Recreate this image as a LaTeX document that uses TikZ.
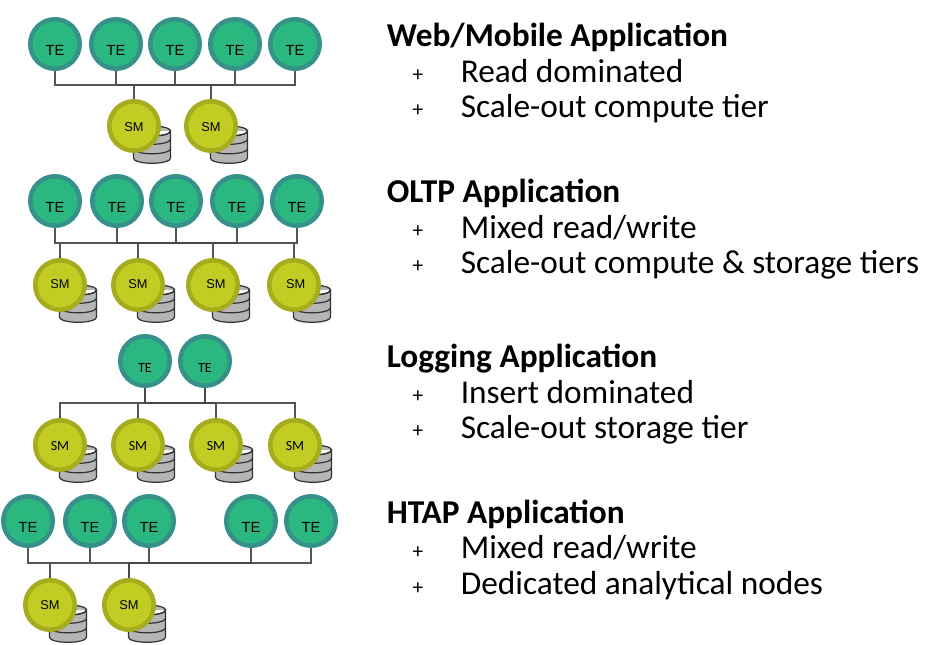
\documentclass[tikz,border=0pt]{standalone}
\usepackage{fontspec}
\setmainfont{Carlito}
\newfontfamily\arialfont{Liberation Sans}
\usetikzlibrary{positioning}
\definecolor{tefill}{HTML}{2BB880}
\definecolor{teline}{HTML}{36918A}
\definecolor{smfill}{HTML}{C2CD23}
\definecolor{smline}{HTML}{A5AC1E}
\definecolor{diskfill}{HTML}{B5B5B5}
\definecolor{wire}{HTML}{555555}

\begin{document}
\begin{tikzpicture}[
        x=0.75pt, y=-0.75pt,
        tenode/.style={
            circle, draw=teline, fill=tefill, line width=3.4pt, minimum size=37.1pt, inner sep=0pt,
            text height=17pt, text depth=0pt, font=\arialfont\fontsize{11}{13}\selectfont
        },
        smnode/.style={
            circle, draw=smline, fill=smfill, line width=3.4pt, minimum size=37.1pt, inner sep=0pt,
            text height=8pt, text depth=0pt, font=\arialfont\fontsize{9.6}{11}\selectfont
        },
        logtext/.style={font=\fontsize{10.5}{12}\selectfont},
        conn/.style={draw=wire, line width=1pt},
        mainconn/.style={draw=wire!85!black, line width=1.5pt},
        head/.style={anchor=base west, inner sep=0pt, font=\bfseries\fontsize{25}{30}\selectfont},
        item/.style={anchor=base west, inner sep=0pt, font=\fontsize{25}{30}\selectfont},
        plusmark/.style={anchor=base, inner sep=0pt, font=\fontsize{16}{18}\selectfont},
        disk/.pic={
            \draw[draw=black!80, fill=diskfill, line width=0.9pt]
                (-18.5,-13.5) -- (-18.5,13.8) arc[start angle=180, end angle=0, x radius=18.5, y radius=5]
                -- (18.5,-13.5) arc[start angle=0, end angle=360, x radius=18.5, y radius=5];
            \draw[draw=black!80, line width=0.9pt]
                (-18.5,-13.5) arc[start angle=180, end angle=0, x radius=18.5, y radius=5]
                (-18.5,-5.2) arc[start angle=180, end angle=0, x radius=18.5, y radius=5]
                (-18.5,4.3) arc[start angle=180, end angle=0, x radius=18.5, y radius=5];
        }
    ]
        \useasboundingbox (0,0) rectangle (947,645);

        % Web/Mobile row
        \foreach \n/\x in {a1/55, a2/116, a3/175, a4/235, a5/295}
            \node[tenode] (\n) at (\x,44) {TE};
        \foreach \n/\x in {p1/134, p2/211} {
            \pic at (\x+18,144.5) {disk};
            \node[smnode] (\n) at (\x,126) {SM};
        }
        \coordinate (busa) at (0,85);
        \draw[conn] (a1.south) |- (busa -| a5.south) -- (a5.south);
        \draw[mainconn] (a2.south |- busa) -- (a4.south |- busa);
        \foreach \n in {a2, a3, a4} \draw[conn] (\n.south) -- (\n.south |- busa);
        \foreach \n in {p1, p2} \draw[conn] (\n.north) -- (\n.north |- busa);

        % OLTP row
        \foreach \n/\x in {b1/55, b2/117, b3/176, b4/237, b5/297}
            \node[tenode] (\n) at (\x,201) {TE};
        \foreach \n/\x/\k in {q1/60/0, q2/138/0, q3/213/4.5, q4/294/2.5} {
            \pic at (\x+18,303.5) {disk};
            \node[smnode, text height=5.3pt] (\n) at (\x,285) {\hspace*{\k pt}SM};
        }
        \coordinate (busb) at (0,243);
        \draw[conn] (b1.south) |- (busb -| b5.south) -- (b5.south);
        \draw[mainconn] (b2.south |- busb) -- (b4.south |- busb);
        \foreach \n in {b2, b3, b4} \draw[conn] (\n.south) -- (\n.south |- busb);
        \foreach \n in {q1, q2, q3, q4} \draw[conn] (\n.north) -- (\n.north |- busb);

        % Logging row
        \foreach \n/\x in {c1/145, c2/205}
            \node[tenode, logtext, text height=16.6pt] (\n) at (\x,361) {TE};
        \foreach \n/\x in {r1/60, r2/138, r3/216, r4/295} {
            \pic at (\x+18,463.5) {disk};
            \node[smnode, logtext, text height=8.8pt] (\n) at (\x,445) {SM};
        }
        \coordinate (busc) at (0,403);
        \draw[conn] (r1.north) |- (busc -| r4.north) -- (r4.north);
        \draw[mainconn] (c1.south) |- (busc -| r3.north);
        \draw[mainconn] (c2.south) -- (c2.south |- busc);
        \foreach \n in {r2, r3} \draw[conn] (\n.north) -- (\n.north |- busc);

        % HTAP row
        \foreach \n/\x in {d1/28, d2/90, d3/149, d4/251, d5/311}
            \node[tenode] (\n) at (\x,521) {TE};
        \foreach \n/\x in {s1/50, s2/129} {
            \pic at (\x+18,623.5) {disk};
            \node[smnode, text height=7pt] (\n) at (\x,605) {SM};
        }
        \coordinate (busd) at (0,563);
        \draw[conn] (d1.south) |- (busd -| d5.south) -- (d5.south);
        \draw[mainconn] (s2.north) |- (busd -| d4.south);
        \foreach \n in {d2, d3, d4} \draw[conn] (\n.south) -- (\n.south |- busd);
        \draw[conn] (s1.north) -- (s1.north |- busd);

        % Captions
        \node[head] (weba) at (386.5,46.5) {Web/Mobile Application};
        \node[plusmark] (webp) at (418,82) {+};
        \node[item] (webb) at (460.5,82.5) {Read dominated};
        \node[plusmark] (webq) at (418,117) {+};
        \node[item] (webc) at (460.5,117.5) {Scale-out compute tier};

        \node[head] (olta) at (386.5,202.5) {OLTP Application};
        \node[plusmark] (oltp) at (418,238) {+};
        \node[item] (oltb) at (460.5,238.5) {Mixed read/write};
        \node[plusmark] (oltq) at (418,273) {+};
        \node[item] (oltc) at (460.5,273.5) {Scale-out compute \& storage tiers};

        \node[head] (loga) at (386.5,367.5) {Logging Application};
        \node[plusmark] (logp) at (418,403) {+};
        \node[item] (logb) at (460.5,403.5) {Insert dominated};
        \node[plusmark] (logq) at (418,438) {+};
        \node[item] (logc) at (460.5,438.5) {Scale-out storage tier};

        \node[head] (htaa) at (386.5,523.5) {HTAP Application};
        \node[plusmark] (htap) at (418,558) {+};
        \node[item] (htab) at (460.5,558.5) {Mixed read/write};
        \node[plusmark] (htaq) at (418,594) {+};
        \node[item] (htac) at (460.5,594.5) {Dedicated analytical nodes};

    \end{tikzpicture}
\end{document}
